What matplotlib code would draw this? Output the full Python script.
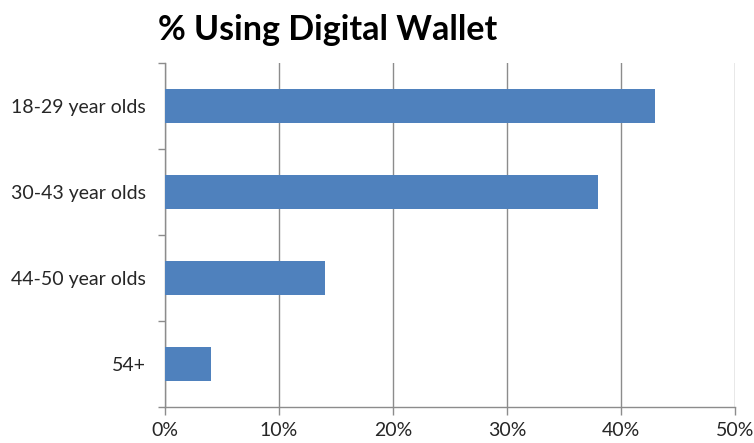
import matplotlib.pyplot as plt
from matplotlib.ticker import FixedLocator, PercentFormatter

# Survey data
AGE_GROUPS = ["18-29 year olds", "30-43 year olds", "44-50 year olds", "54+"]
PCT_USING = [43, 38, 14, 4]
X_TICKS = [0, 10, 20, 30, 40, 50]

BAR_COLOR = "#4F81BD"
GRID_COLOR = "#8C8C8C"
TEXT_COLOR = "#262626"

plt.rcParams['font.family'] = ['Lato', 'DejaVu Sans']

fig = plt.figure(figsize=(7.54, 4.43), dpi=100)
ax = fig.add_axes([165 / 754, 1 - 407 / 443, (735 - 165) / 754, (407 - 63) / 443])

ypos = list(range(len(AGE_GROUPS)))
ax.barh(ypos, PCT_USING, height=0.4, color=BAR_COLOR, zorder=3)

ax.set_xlim(0, 50)
ax.set_ylim(len(AGE_GROUPS) - 0.5, -0.5)

ax.xaxis.set_major_locator(FixedLocator(X_TICKS))
ax.xaxis.set_major_formatter(PercentFormatter(decimals=0))
ax.set_yticks(ypos)
ax.set_yticklabels(AGE_GROUPS)
# category boundary ticks
ax.yaxis.set_minor_locator(FixedLocator([i - 0.5 for i in range(len(AGE_GROUPS) + 1)]))

ax.grid(axis='x', color=GRID_COLOR, linewidth=1.0, zorder=0)
ax.tick_params(axis='y', which='major', length=0, pad=14, labelsize=14, labelcolor=TEXT_COLOR)
ax.tick_params(axis='y', which='minor', length=5, width=1, color=GRID_COLOR)
ax.tick_params(axis='x', which='major', length=6, width=1, color=GRID_COLOR,
               labelsize=14, labelcolor=TEXT_COLOR, pad=5)

for side in ['top', 'right']:
    ax.spines[side].set_visible(False)
for side in ['left', 'bottom']:
    ax.spines[side].set_color(GRID_COLOR)
    ax.spines[side].set_linewidth(1.0)

fig.text(158 / 754, 1 - 40 / 443, "% Using Digital Wallet", fontsize=24.5,
         fontweight='bold', color='black', ha='left', va='baseline')

fig.savefig("out.png", dpi=100)
